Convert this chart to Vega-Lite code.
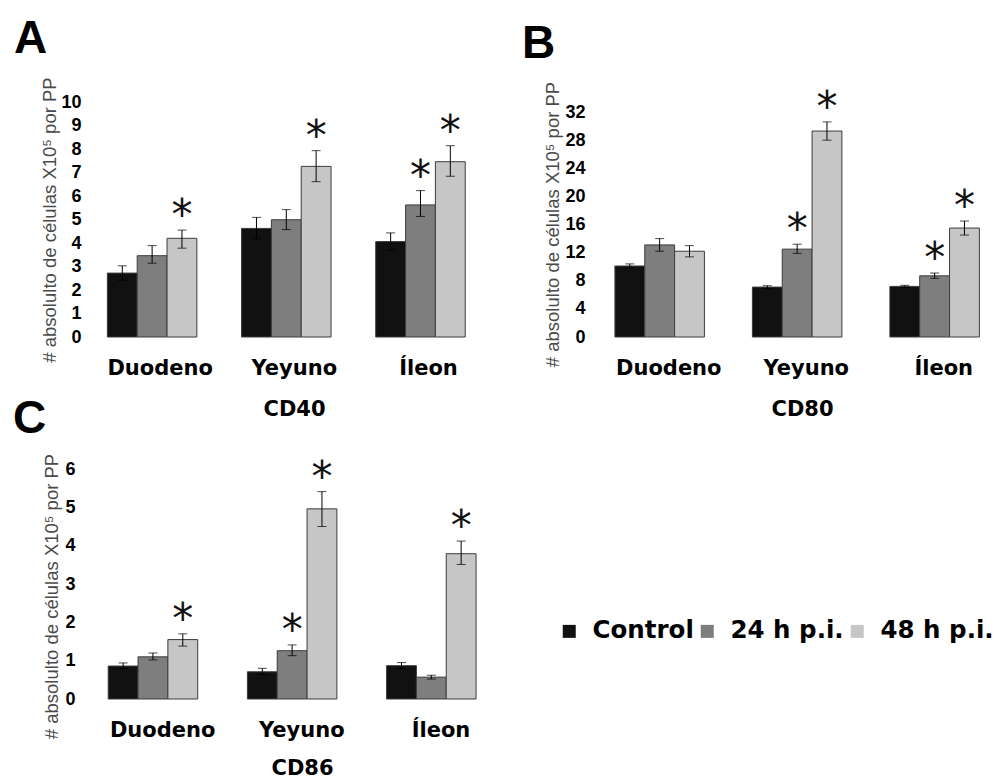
{
  "$schema": "https://vega.github.io/schema/vega-lite/v6.json",
  "background": "white",
  "padding": {"left": 13, "top": 15, "right": 0, "bottom": 0},
  "datasets": {
    "d": [
      {"panel": "A", "region": "Duodeno", "group": "Control", "value": 2.72, "lo": 2.41, "hi": 3.03, "sig": false},
      {"panel": "A", "region": "Duodeno", "group": "24 h p.i.", "value": 3.46, "lo": 3.14, "hi": 3.89, "sig": false},
      {"panel": "A", "region": "Duodeno", "group": "48 h p.i.", "value": 4.2, "lo": 3.78, "hi": 4.55, "sig": true},
      {"panel": "A", "region": "Yeyuno", "group": "Control", "value": 4.62, "lo": 4.17, "hi": 5.09, "sig": false},
      {"panel": "A", "region": "Yeyuno", "group": "24 h p.i.", "value": 4.99, "lo": 4.57, "hi": 5.42, "sig": false},
      {"panel": "A", "region": "Yeyuno", "group": "48 h p.i.", "value": 7.26, "lo": 6.61, "hi": 7.93, "sig": true},
      {"panel": "A", "region": "Íleon", "group": "Control", "value": 4.06, "lo": 3.7, "hi": 4.43, "sig": false},
      {"panel": "A", "region": "Íleon", "group": "24 h p.i.", "value": 5.62, "lo": 5.13, "hi": 6.23, "sig": true},
      {"panel": "A", "region": "Íleon", "group": "48 h p.i.", "value": 7.46, "lo": 6.84, "hi": 8.14, "sig": true},
      {"panel": "B", "region": "Duodeno", "group": "Control", "value": 10.1, "lo": 9.8, "hi": 10.4, "sig": false},
      {"panel": "B", "region": "Duodeno", "group": "24 h p.i.", "value": 13.1, "lo": 12.2, "hi": 14.0, "sig": false},
      {"panel": "B", "region": "Duodeno", "group": "48 h p.i.", "value": 12.2, "lo": 11.4, "hi": 13.0, "sig": false},
      {"panel": "B", "region": "Yeyuno", "group": "Control", "value": 7.1, "lo": 6.9, "hi": 7.3, "sig": false},
      {"panel": "B", "region": "Yeyuno", "group": "24 h p.i.", "value": 12.5, "lo": 11.9, "hi": 13.2, "sig": true},
      {"panel": "B", "region": "Yeyuno", "group": "48 h p.i.", "value": 29.3, "lo": 28.0, "hi": 30.6, "sig": true},
      {"panel": "B", "region": "Íleon", "group": "Control", "value": 7.2, "lo": 7.05, "hi": 7.35, "sig": false},
      {"panel": "B", "region": "Íleon", "group": "24 h p.i.", "value": 8.7, "lo": 8.35, "hi": 9.1, "sig": true},
      {"panel": "B", "region": "Íleon", "group": "48 h p.i.", "value": 15.5, "lo": 14.5, "hi": 16.5, "sig": true},
      {"panel": "C", "region": "Duodeno", "group": "Control", "value": 0.86, "lo": 0.8, "hi": 0.94, "sig": false},
      {"panel": "C", "region": "Duodeno", "group": "24 h p.i.", "value": 1.1, "lo": 1.02, "hi": 1.2, "sig": false},
      {"panel": "C", "region": "Duodeno", "group": "48 h p.i.", "value": 1.55, "lo": 1.38, "hi": 1.7, "sig": true},
      {"panel": "C", "region": "Yeyuno", "group": "Control", "value": 0.71, "lo": 0.64, "hi": 0.8, "sig": false},
      {"panel": "C", "region": "Yeyuno", "group": "24 h p.i.", "value": 1.26, "lo": 1.13, "hi": 1.41, "sig": true},
      {"panel": "C", "region": "Yeyuno", "group": "48 h p.i.", "value": 4.96, "lo": 4.5, "hi": 5.41, "sig": true},
      {"panel": "C", "region": "Íleon", "group": "Control", "value": 0.87, "lo": 0.8, "hi": 0.95, "sig": false},
      {"panel": "C", "region": "Íleon", "group": "24 h p.i.", "value": 0.57, "lo": 0.52, "hi": 0.62, "sig": false},
      {"panel": "C", "region": "Íleon", "group": "48 h p.i.", "value": 3.79, "lo": 3.51, "hi": 4.12, "sig": true}
    ]
  },
  "columns": 2,
  "bounds": "flush",
  "spacing": {"row": 132, "column": 89},
  "concat": [
    {
      "width": 402.6,
      "height": 235,
      "title": {"text": "A", "anchor": "start", "frame": "group", "font": "Liberation Sans", "fontSize": 46, "fontWeight": "bold", "color": "black", "baseline": "alphabetic", "offset": 0, "dy": 22, "dx": -71},
      "data": {"name": "d"},
      "transform": [{"filter": "datum.panel == 'A'"}],
      "encoding": {
        "x": {"field": "region", "type": "nominal", "scale": {"domain": ["Duodeno", "Yeyuno", "Íleon"], "paddingInner": 0.333, "paddingOuter": 0.1667}, "axis": {"title": "CD40", "labelOffset": 8, "titleX": 209}},
        "xOffset": {"field": "group", "type": "nominal", "scale": {"domain": ["Control", "24 h p.i.", "48 h p.i."], "paddingInner": 0, "paddingOuter": 0}}
      },
      "layer": [
        {
          "mark": {"type": "bar", "stroke": "#3c3c3c", "strokeWidth": 1},
          "encoding": {
            "y": {"field": "value", "type": "quantitative", "scale": {"domain": [0, 10], "nice": false}, "axis": {"values": [0, 1, 2, 3, 4, 5, 6, 7, 8, 9, 10], "title": "# absolulto de células X10⁵ por PP", "labelPadding": 4, "titlePadding": 1}},
            "color": {"field": "group", "type": "nominal", "scale": {"domain": ["Control", "24 h p.i.", "48 h p.i."], "range": ["#111111", "#7e7e7e", "#c6c6c6"]}, "legend": {"orient": "none", "direction": "horizontal", "legendX": 472, "legendY": 517, "title": null}}
          }
        },
        {"mark": {"type": "rule", "color": "black", "strokeWidth": 1}, "encoding": {"y": {"field": "lo", "type": "quantitative", "axis": {"values": [0, 1, 2, 3, 4, 5, 6, 7, 8, 9, 10], "title": "# absolulto de células X10⁵ por PP", "labelPadding": 4, "titlePadding": 1}}, "y2": {"field": "hi"}}},
        {"mark": {"type": "tick", "color": "black", "size": 9, "thickness": 1}, "encoding": {"y": {"field": "hi", "type": "quantitative", "axis": {"values": [0, 1, 2, 3, 4, 5, 6, 7, 8, 9, 10], "title": "# absolulto de células X10⁵ por PP", "labelPadding": 4, "titlePadding": 1}}}},
        {"mark": {"type": "tick", "color": "black", "size": 9, "thickness": 1}, "encoding": {"y": {"field": "lo", "type": "quantitative", "axis": {"values": [0, 1, 2, 3, 4, 5, 6, 7, 8, 9, 10], "title": "# absolulto de células X10⁵ por PP", "labelPadding": 4, "titlePadding": 1}}}},
        {"transform": [{"filter": "datum.sig"}], "mark": {"type": "text", "text": "*", "font": "DejaVu Sans", "fontSize": 42, "baseline": "alphabetic", "dy": -1, "color": "#111"}, "encoding": {"y": {"field": "hi", "type": "quantitative", "axis": {"values": [0, 1, 2, 3, 4, 5, 6, 7, 8, 9, 10], "title": "# absolulto de células X10⁵ por PP", "labelPadding": 4, "titlePadding": 1}}}}
      ]
    },
    {
      "width": 412.5,
      "height": 235,
      "title": {"text": "B", "anchor": "start", "frame": "group", "font": "Liberation Sans", "fontSize": 46, "fontWeight": "bold", "color": "black", "baseline": "alphabetic", "offset": 0, "dy": 23, "dx": -70},
      "data": {"name": "d"},
      "transform": [{"filter": "datum.panel == 'B'"}],
      "encoding": {
        "x": {"field": "region", "type": "nominal", "scale": {"domain": ["Duodeno", "Yeyuno", "Íleon"], "paddingInner": 0.333, "paddingOuter": 0.1667}, "axis": {"title": "CD80", "labelOffset": 8, "titleX": 210}},
        "xOffset": {"field": "group", "type": "nominal", "scale": {"domain": ["Control", "24 h p.i.", "48 h p.i."], "paddingInner": 0, "paddingOuter": 0}}
      },
      "layer": [
        {
          "mark": {"type": "bar", "stroke": "#3c3c3c", "strokeWidth": 1},
          "encoding": {
            "y": {"field": "value", "type": "quantitative", "scale": {"domain": [0, 33.43], "nice": false}, "axis": {"values": [0, 4, 8, 12, 16, 20, 24, 28, 32], "title": "# absolulto de células X10⁵ por PP", "labelPadding": 7, "titlePadding": 2, "titleY": 122}},
            "color": {"field": "group", "type": "nominal", "scale": {"domain": ["Control", "24 h p.i.", "48 h p.i."], "range": ["#111111", "#7e7e7e", "#c6c6c6"]}, "legend": {"orient": "none", "direction": "horizontal", "legendX": 472, "legendY": 517, "title": null}}
          }
        },
        {"mark": {"type": "rule", "color": "black", "strokeWidth": 1}, "encoding": {"y": {"field": "lo", "type": "quantitative", "axis": {"values": [0, 4, 8, 12, 16, 20, 24, 28, 32], "title": "# absolulto de células X10⁵ por PP", "labelPadding": 7, "titlePadding": 2, "titleY": 122}}, "y2": {"field": "hi"}}},
        {"mark": {"type": "tick", "color": "black", "size": 9, "thickness": 1}, "encoding": {"y": {"field": "hi", "type": "quantitative", "axis": {"values": [0, 4, 8, 12, 16, 20, 24, 28, 32], "title": "# absolulto de células X10⁵ por PP", "labelPadding": 7, "titlePadding": 2, "titleY": 122}}}},
        {"mark": {"type": "tick", "color": "black", "size": 9, "thickness": 1}, "encoding": {"y": {"field": "lo", "type": "quantitative", "axis": {"values": [0, 4, 8, 12, 16, 20, 24, 28, 32], "title": "# absolulto de células X10⁵ por PP", "labelPadding": 7, "titlePadding": 2, "titleY": 122}}}},
        {"transform": [{"filter": "datum.sig"}], "mark": {"type": "text", "text": "*", "font": "DejaVu Sans", "fontSize": 42, "baseline": "alphabetic", "dy": -1, "color": "#111"}, "encoding": {"y": {"field": "hi", "type": "quantitative", "axis": {"values": [0, 4, 8, 12, 16, 20, 24, 28, 32], "title": "# absolulto de células X10⁵ por PP", "labelPadding": 7, "titlePadding": 2, "titleY": 122}}}}
      ]
    },
    {
      "width": 417.6,
      "height": 230,
      "title": {"text": "C", "anchor": "start", "frame": "group", "font": "Liberation Sans", "fontSize": 46, "fontWeight": "bold", "color": "black", "baseline": "alphabetic", "offset": 0, "dy": 26, "dx": -72},
      "data": {"name": "d"},
      "transform": [{"filter": "datum.panel == 'C'"}],
      "encoding": {
        "x": {"field": "region", "type": "nominal", "scale": {"domain": ["Duodeno", "Yeyuno", "Íleon"], "paddingInner": 0.333, "paddingOuter": 0.1667}, "axis": {"title": "CD86", "labelOffset": 8, "titleX": 217, "titlePadding": 17}},
        "xOffset": {"field": "group", "type": "nominal", "scale": {"domain": ["Control", "24 h p.i.", "48 h p.i."], "paddingInner": 0, "paddingOuter": 0}}
      },
      "layer": [
        {
          "mark": {"type": "bar", "stroke": "#3c3c3c", "strokeWidth": 1},
          "encoding": {
            "y": {"field": "value", "type": "quantitative", "scale": {"domain": [0, 6], "nice": false}, "axis": {"values": [0, 1, 2, 3, 4, 5, 6], "title": "# absolulto de células X10⁵ por PP", "labelPadding": 10, "titlePadding": 3, "titleY": 127}},
            "color": {"field": "group", "type": "nominal", "scale": {"domain": ["Control", "24 h p.i.", "48 h p.i."], "range": ["#111111", "#7e7e7e", "#c6c6c6"]}, "legend": {"orient": "none", "direction": "horizontal", "legendX": 472, "legendY": 517, "title": null}}
          }
        },
        {"mark": {"type": "rule", "color": "black", "strokeWidth": 1}, "encoding": {"y": {"field": "lo", "type": "quantitative", "axis": {"values": [0, 1, 2, 3, 4, 5, 6], "title": "# absolulto de células X10⁵ por PP", "labelPadding": 10, "titlePadding": 3, "titleY": 127}}, "y2": {"field": "hi"}}},
        {"mark": {"type": "tick", "color": "black", "size": 9, "thickness": 1}, "encoding": {"y": {"field": "hi", "type": "quantitative", "axis": {"values": [0, 1, 2, 3, 4, 5, 6], "title": "# absolulto de células X10⁵ por PP", "labelPadding": 10, "titlePadding": 3, "titleY": 127}}}},
        {"mark": {"type": "tick", "color": "black", "size": 9, "thickness": 1}, "encoding": {"y": {"field": "lo", "type": "quantitative", "axis": {"values": [0, 1, 2, 3, 4, 5, 6], "title": "# absolulto de células X10⁵ por PP", "labelPadding": 10, "titlePadding": 3, "titleY": 127}}}},
        {"transform": [{"filter": "datum.sig"}], "mark": {"type": "text", "text": "*", "font": "DejaVu Sans", "fontSize": 42, "baseline": "alphabetic", "dy": -1, "color": "#111"}, "encoding": {"y": {"field": "hi", "type": "quantitative", "axis": {"values": [0, 1, 2, 3, 4, 5, 6], "title": "# absolulto de células X10⁵ por PP", "labelPadding": 10, "titlePadding": 3, "titleY": 127}}}}
      ]
    }
  ],
  "config": {
    "view": {"stroke": null},
    "axisY": {
      "domain": false, "ticks": false, "tickSize": 0, "grid": false,
      "labelFont": "Liberation Sans", "labelFontWeight": "bold", "labelFontSize": 18, "labelColor": "black",
      "titleFont": "Liberation Sans", "titleFontWeight": "normal", "titleFontSize": 18.5, "titleColor": "#4a4a4a"
    },
    "axisX": {
      "domain": false, "ticks": false, "tickSize": 0, "grid": false, "labelAngle": 0,
      "labelFont": "DejaVu Sans", "labelFontWeight": "bold", "labelFontSize": 21, "labelColor": "black", "labelPadding": 20,
      "titleFont": "DejaVu Sans", "titleFontWeight": "bold", "titleFontSize": 21, "titleColor": "black", "titlePadding": 20
    },
    "legend": {
      "padding": 0, "symbolType": "square", "symbolSize": 169, "symbolStrokeWidth": 0,
      "labelFont": "DejaVu Sans", "labelFontWeight": "bold", "labelFontSize": 24.5, "labelColor": "black",
      "labelOffset": 11, "columnPadding": 1, "labelLimit": 300
    }
  }
}
